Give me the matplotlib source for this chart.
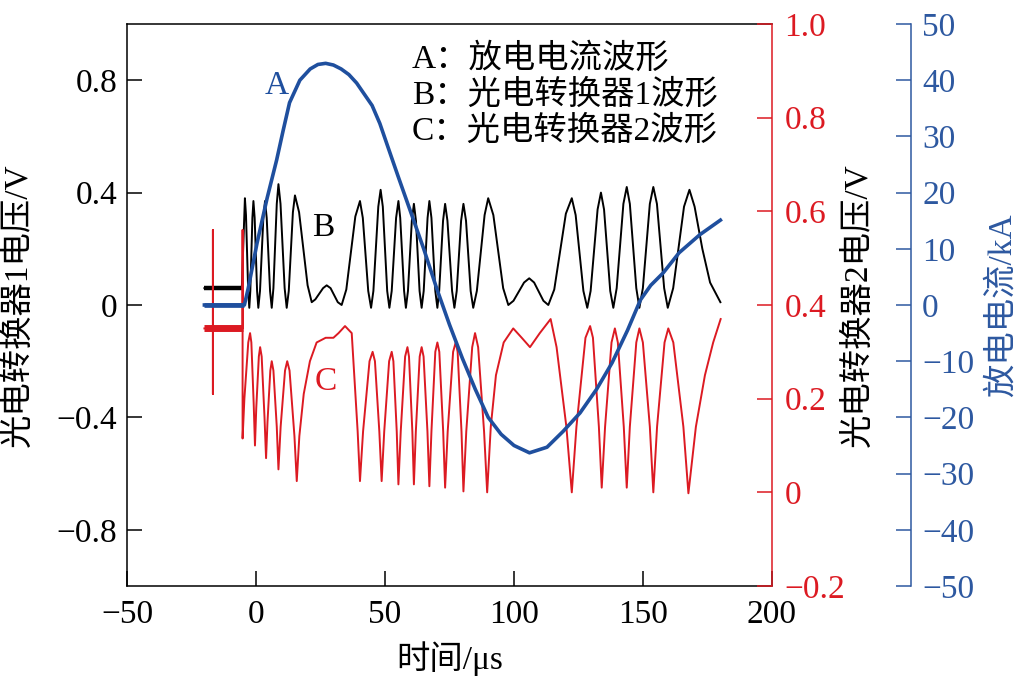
import matplotlib
matplotlib.use("Agg")
import matplotlib.pyplot as plt

plt.rcParams['font.family'] = ['Liberation Serif', 'Noto Sans CJK SC']
plt.rcParams['axes.unicode_minus'] = True

# ---- data ----
# A: discharge current (kA), right blue axis
t_a = [-20, -4.5, -3, 0.4, 4.3, 8, 10.5, 13, 17, 21, 24, 27, 30, 33, 36, 39, 42, 45, 48,
       51, 55, 60, 65, 70, 75, 80, 85, 90, 95, 100, 106, 112.8, 119, 125.6, 132, 138,
       144, 149, 153, 157.8, 164, 172, 180]
i_a = [0, 0, 3, 11, 19, 25.8, 31, 36, 40, 42, 42.8, 43, 42.7, 42, 41, 39.5, 37.5, 35.5, 32.3,
       28.3, 23, 16.5, 10, 3, -3.5, -9.5, -15, -20, -23, -25, -26.3, -25.3, -22.5, -19.2,
       -15, -10.3, -4.5, 0.9, 3.5, 5.7, 9.3, 12.5, 15.1]

# B: photoelectric converter 1 voltage (V), left axis
t_b = [-20, -5.5, -4.3, -3.88, -3.03, -2.6, -2.2, -1.4, -1.0, -0.52, 0.42, 0.9, 1.55, 2.85,
       3.5, 4.15, 5.45, 6.1, 6.75, 8.05, 8.7, 9.5, 11.1, 11.9, 12.7, 14.3, 15.1, 16.7, 20.0,
       21.6, 23.0, 26.0, 27.4, 28.9, 31.7, 33.2, 35.0, 38.5, 40.3, 41.4, 43.5, 44.6, 45.5,
       47.4, 48.3, 49.15, 50.85, 51.7, 52.6, 54.3, 55.2, 55.9, 57.4, 58.1, 58.9, 60.4, 61.2,
       62.0, 63.4, 64.2, 65.0, 66.5, 67.2, 68.0, 69.5, 70.3, 71.0, 72.5, 73.3, 74.2, 76.0,
       76.9, 77.8, 79.5, 80.4, 81.4, 83.2, 84.2, 85.6, 88.6, 90, 92, 95.8, 97.8, 99.8, 103.9,
       105.9, 107.8, 111.4, 113.3, 115.6, 120.1, 122.4, 123.9, 126.9, 128.4, 129.7, 132.4,
       133.7, 134.9, 137.3, 138.5, 139.8, 142.4, 143.7, 144.9, 147.4, 148.6, 149.95, 152.65,
       154, 155.4, 158.2, 159.6, 161.7, 165.9, 168, 170, 173, 176, 180]
v_b = [0.06, 0.06, 0.38, 0.32, 0.05, -0.01, 0.05, 0.31, 0.37, 0.31, 0.05, -0.01, 0.05, 0.31,
       0.37, 0.31, 0.05, -0.01, 0.06, 0.36, 0.43, 0.36, 0.06, -0.01, 0.05, 0.33, 0.39, 0.33, 0.07,
       0.01, 0.02, 0.06, 0.07, 0.06, 0.01, 0.0, 0.055, 0.315, 0.37, 0.31, 0.05, -0.01, 0.05,
       0.35, 0.41, 0.35, 0.05, -0.01, 0.05, 0.31, 0.37, 0.31, 0.05, -0.01, 0.05, 0.30, 0.36,
       0.30, 0.05, -0.01, 0.05, 0.31, 0.37, 0.31, 0.05, -0.01, 0.05, 0.30, 0.36, 0.30, 0.05,
       -0.01, 0.05, 0.30, 0.36, 0.30, 0.05, -0.01, 0.05, 0.32, 0.38, 0.32, 0.06, 0.0, 0.015, 0.08,
       0.095, 0.08, 0.015, 0.0, 0.055, 0.325, 0.38, 0.32, 0.05, -0.01, 0.05, 0.34,
       0.40, 0.34, 0.05, -0.01, 0.06, 0.36, 0.42, 0.36, 0.06, -0.01, 0.06, 0.36,
       0.42, 0.36, 0.06, -0.01, 0.06, 0.35, 0.41, 0.35, 0.20, 0.08, 0.01]

# C: photoelectric converter 2 voltage (V), right red axis
t_c = [-20, -16.7, -16.7, -16.7, -16.7, -5.2, -5.2, -5.2, -4.5, -3.0, -2.3, -1.8, -0.9, -0.4,
       0.1, 1.1, 1.6, 2.2, 3.3, 3.9, 4.45, 5.55, 6.1, 6.75, 8.05, 8.7, 9.55, 11.25, 12.1, 13.0,
       14.9, 15.8, 16.8, 18.5, 20.9, 23.5, 27, 30, 32, 34.5, 37.1, 39.4, 40.3, 41.5, 44.0, 45.2,
       46.1, 47.8, 48.7, 49.7, 51.6, 52.6, 53.25, 54.55, 55.2, 56.1, 57.8, 58.7, 59.3, 60.6,
       61.2, 61.95, 63.45, 64.2, 64.95, 66.45, 67.2, 68.0, 69.5, 70.3, 71.05, 72.55, 73.3, 74.3,
       76.4, 77.4, 78.15, 79.65, 80.4, 81.5, 83.8, 84.9, 86.1, 88.4, 89.6, 91, 93, 96, 99.7, 103,
       106.2, 110, 114.2, 116.5, 120.3, 122.4, 124.2, 127.7, 129.5, 130.6, 132.9, 134, 135.3,
       137.8, 139.1, 140.25, 142.55, 143.7, 144.9, 147.4, 148.6, 149.95, 152.65, 154, 155.45,
       158.35, 159.8, 161.75, 165.65, 167.6, 170.5, 174, 177.2, 180.1]
v_c = [0.35, 0.35, 0.56, 0.21, 0.35, 0.35, 0.56, 0.115, 0.20, 0.32, 0.34, 0.32, 0.19, 0.10,
       0.18, 0.29, 0.31, 0.29, 0.16, 0.073, 0.15, 0.26, 0.28, 0.26, 0.14, 0.049, 0.14, 0.26, 0.28,
       0.26, 0.12, 0.024, 0.12, 0.21, 0.28, 0.32, 0.33, 0.33, 0.34, 0.355, 0.34, 0.13, 0.024, 0.13,
       0.28, 0.30, 0.28, 0.13, 0.024, 0.13, 0.28, 0.30, 0.28, 0.13, 0.017, 0.13, 0.29, 0.31, 0.29,
       0.13, 0.017, 0.13, 0.29, 0.31, 0.29, 0.13, 0.013, 0.13, 0.30, 0.32, 0.30, 0.13, 0.01, 0.13,
       0.30, 0.32, 0.30, 0.13, 0.002, 0.13, 0.31, 0.34, 0.31, 0.13, 0.0, 0.14, 0.25, 0.32, 0.35,
       0.33, 0.31, 0.34, 0.37, 0.31, 0.14, 0.0, 0.14, 0.33, 0.355, 0.33, 0.14, 0.01, 0.14, 0.32,
       0.35, 0.32, 0.14, 0.01, 0.14, 0.32, 0.35, 0.32, 0.14, 0.0, 0.14, 0.32, 0.35, 0.32, 0.14,
       -0.002, 0.14, 0.25, 0.32, 0.37]

x_ticks = [-50, 0, 50, 100, 150, 200]
x_ticklabels = ['\u221250', '0', '50', '100', '150', '200']
y1_ticks = [-0.8, -0.4, 0, 0.4, 0.8]
y1_ticklabels = ['\u22120.8', '\u22120.4', '0', '0.4', '0.8']
y2_ticks = [-0.2, 0, 0.2, 0.4, 0.6, 0.8, 1.0]
y2_ticklabels = ['\u22120.2', '0', '0.2', '0.4', '0.6', '0.8', '1.0']
y3_ticks = [-50, -40, -30, -20, -10, 0, 10, 20, 30, 40, 50]
y3_ticklabels = ['\u221250', '\u221240', '\u221230', '\u221220', '\u221210', '0',
                 '10', '20', '30', '40', '50']

legend_lines = ['A\uff1a放电电流波形', 'B\uff1a光电转换器1波形', 'C\uff1a光电转换器2波形']

RED = '#dc1a22'
BLUE = '#1f4f9e'
BLUE_AX = '#2d58a0'
FS = 24

fig = plt.figure(figsize=(10.27, 6.89), dpi=100)
L, R, T, B = 127, 772, 24, 586
W, H = 1027, 689
ax = fig.add_axes([L / W, 1 - B / H, (R - L) / W, (B - T) / H])
ax2 = ax.twinx()
ax3 = ax.twinx()

# black B
ax.plot(t_b, v_b, color='black', lw=1.4)
ax.plot(t_b[:2], v_b[:2], color='black', lw=3.2, solid_capstyle='butt')
ax.set_xlim(-50, 200)
ax.set_ylim(-1, 1)
ax.set_xticks(x_ticks)
ax.set_xticklabels(x_ticklabels)
ax.set_yticks(y1_ticks)
ax.set_yticklabels(y1_ticklabels)
ax.tick_params(axis='both', direction='in', length=11, width=1.1, labelsize=FS)
ax.tick_params(axis='x', pad=10)
ax.tick_params(axis='y', pad=7)
ax.spines['right'].set_visible(False)
for s in ['left', 'bottom', 'top']:
    ax.spines[s].set_linewidth(1.1)
ax.set_xlabel('时间/\u03bcs', fontsize=FS, labelpad=8)
ax.set_ylabel('光电转换器1电压/V', fontsize=FS, va='center')
ax.yaxis.set_label_coords(-0.169, 0.5)

# red C
ax2.plot(t_c, v_c, color=RED, lw=1.4)
ax2.plot([t_c[0], t_c[5]], [v_c[0], v_c[5]], color=RED, lw=5, solid_capstyle='butt')
ax2.set_ylim(-0.2, 1.0)
ax2.set_yticks(y2_ticks)
ax2.set_yticklabels(y2_ticklabels)
ax2.tick_params(axis='y', direction='in', length=11, width=1.1, labelsize=FS,
                colors=RED, pad=9)
for s in ['left', 'top', 'bottom']:
    ax2.spines[s].set_visible(False)
ax2.spines['right'].set_color(RED)
ax2.spines['right'].set_linewidth(1.1)
ax2.set_ylabel('光电转换器2电压/V', fontsize=FS, color='black', va='center')
ax2.yaxis.set_label_coords(1.133, 0.5)

# blue A
ax3.plot(t_a, i_a, color=BLUE, lw=2.6)
ax3.plot(t_a[:2], i_a[:2], color=BLUE, lw=3.4, solid_capstyle='butt')
ax3.set_ylim(-50, 50)
ax3.set_yticks(y3_ticks)
ax3.set_yticklabels(y3_ticklabels)
for s in ['left', 'top', 'bottom']:
    ax3.spines[s].set_visible(False)
ax3.spines['right'].set_position(('axes', (911 - L) / (R - L)))
ax3.spines['right'].set_color(BLUE_AX)
ax3.spines['right'].set_linewidth(1.1)
ax3.tick_params(axis='y', direction='in', length=11, width=1.1, labelsize=FS,
                colors=BLUE_AX, pad=8)
ax3.set_ylabel('放电电流/kA', fontsize=FS, color=BLUE_AX, va='center')
ax3.yaxis.set_label_coords((1002 - L) / (R - L), 0.5)

# annotations
ax.text(60.5, 0.876, legend_lines[0], fontsize=FS, va='center', ha='left')
ax.text(60.5, 0.748, legend_lines[1], fontsize=FS, va='center', ha='left')
ax.text(60.5, 0.62, legend_lines[2], fontsize=FS, va='center', ha='left')
ax.text(8.1, 0.78, 'A', fontsize=FS, color=BLUE, ha='center', va='center')
ax.text(26, 0.274, 'B', fontsize=FS, color='black', ha='center', va='center')
ax.text(27, -0.274, 'C', fontsize=FS, color=RED, ha='center', va='center')

fig.savefig('out.png', dpi=100)
